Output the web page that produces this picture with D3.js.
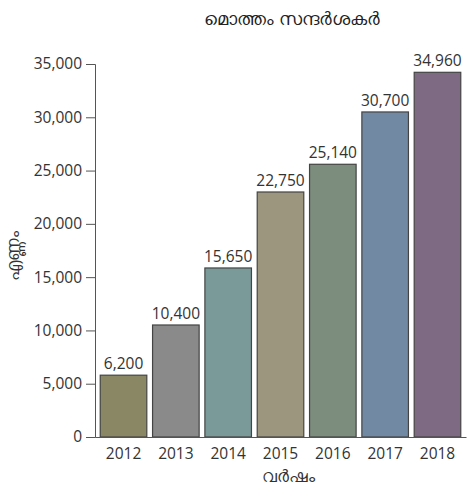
<!DOCTYPE html>
<html>
<head>
<meta charset="utf-8">
<script src="https://cdn.jsdelivr.net/npm/d3@7"></script>
<style>
  body { margin: 0; background: #fff; }
  text { font-family: "Open Sans", "Noto Sans", sans-serif; }
</style>
</head>
<body>
<div id="chart"></div>
<script>
// data
var years = ["2012", "2013", "2014", "2015", "2016", "2017", "2018"];
var barValues = [5800, 10510, 15860, 22990, 25590, 30500, 34220];
var valueLabels = ["6,200", "10,400", "15,650", "22,750", "25,140", "30,700", "34,960"];
var barColors = ["#8a8864", "#8a8a8a", "#7a9a9a", "#9c967e", "#7c8c7d", "#7289a3", "#7f6a83"];
var yTicks = [0, 5000, 10000, 15000, 20000, 25000, 30000, 35000];

var width = 467, height = 487;
var margin = { top: 64, right: 1, bottom: 50, left: 95 };

var svg = d3.select("#chart").append("svg")
    .attr("width", width)
    .attr("height", height);

// scales
var x = d3.scaleBand()
    .domain(years)
    .range([margin.left, width - margin.right])
    .paddingInner(0.11)
    .paddingOuter(0.1);

var y = d3.scaleLinear()
    .domain([0, 35000])
    .range([height - margin.bottom, margin.top]);

// title
svg.append("text")
    .attr("x", 292)
    .attr("y", 25)
    .attr("text-anchor", "middle")
    .attr("font-size", "18px")
    .attr("fill", "#222")
    .text("മൊത്തം സന്ദർശകർ");

// y axis
var yAxis = svg.append("g")
    .attr("transform", `translate(${margin.left},0)`)
    .call(d3.axisLeft(y).tickValues(yTicks).tickSize(9).tickPadding(4).tickFormat(d3.format(",")));
yAxis.selectAll("text").attr("font-size", "15.5px").attr("fill", "#333")
    .style("font-family", "'Open Sans', sans-serif");
yAxis.selectAll("line, path").attr("stroke", "#555");

// bars
svg.append("g").selectAll("rect")
    .data(years)
    .join("rect")
    .attr("x", d => x(d))
    .attr("y", (d, i) => y(barValues[i]))
    .attr("width", x.bandwidth())
    .attr("height", (d, i) => y(0) - y(barValues[i]))
    .attr("fill", (d, i) => barColors[i])
    .attr("stroke", "#444")
    .attr("stroke-width", 1.2);

// value labels
svg.append("g").selectAll("text")
    .data(years)
    .join("text")
    .attr("x", d => x(d) + x.bandwidth() / 2)
    .attr("y", (d, i) => y(barValues[i]) - 6)
    .attr("text-anchor", "middle")
    .attr("font-size", "15.5px")
    .attr("fill", "#333")
    .text((d, i) => valueLabels[i]);

// x axis
var xAxis = svg.append("g")
    .attr("transform", `translate(0,${y(0)})`)
    .call(d3.axisBottom(x).tickSize(0).tickPadding(11));
xAxis.selectAll("text").attr("font-size", "15.5px").attr("fill", "#333")
    .style("font-family", "'Open Sans', sans-serif");
xAxis.select(".domain").attr("stroke", "#555");

// axis titles
svg.append("text")
    .attr("x", 288)
    .attr("y", 482)
    .attr("text-anchor", "middle")
    .attr("font-size", "17px")
    .attr("fill", "#333")
    .text("വർഷം");

svg.append("text")
    .attr("transform", "translate(19,256) rotate(-90)")
    .attr("text-anchor", "middle")
    .attr("font-size", "17px")
    .attr("fill", "#333")
    .text("എണ്ണം");
</script>
</body>
</html>
